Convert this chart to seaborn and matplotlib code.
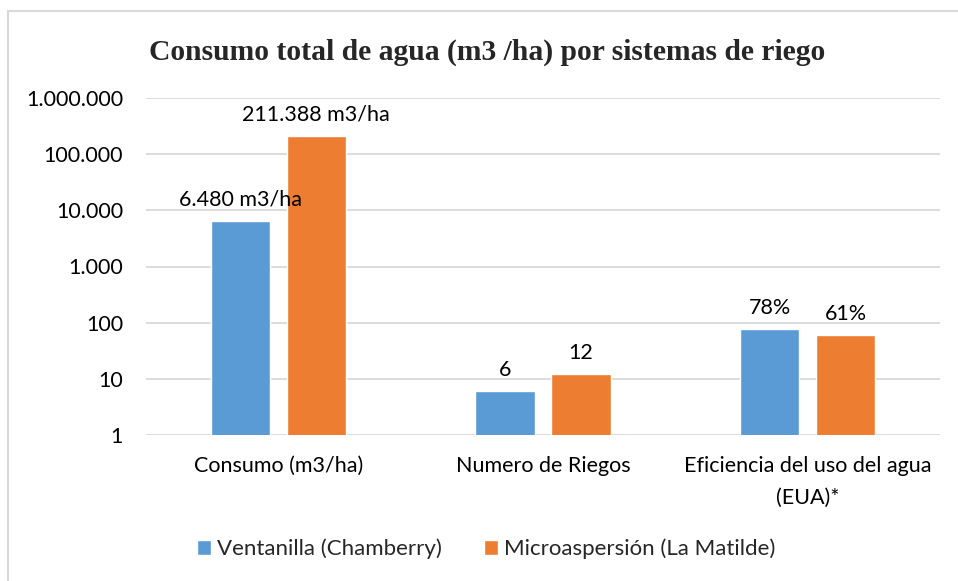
import matplotlib
matplotlib.use("Agg")
import matplotlib.pyplot as plt
import matplotlib.ticker as mticker
from matplotlib.lines import Line2D
import seaborn as sns
import pandas as pd

categories = ["Consumo (m3/ha)", "Numero de Riegos", "Eficiencia del uso del agua\n(EUA)*"]
series_names = ["Ventanilla (Chamberry)", "Microaspersión (La Matilde)"]
ventanilla = [6480, 6, 78]
microaspersion = [211388, 12, 61]
ventanilla_labels = ["6.480 m3/ha", "6", "78%"]
microaspersion_labels = ["211.388 m3/ha", "12", "61%"]
ytick_values = [1, 10, 100, 1000, 10000, 100000, 1000000]
colors = ["#5B9BD5", "#ED7D31"]

df = pd.DataFrame({
    "cat": categories * 2,
    "serie": [series_names[0]] * 3 + [series_names[1]] * 3,
    "val": ventanilla + microaspersion,
})

sns.set_theme(style="white")
plt.rcParams["font.family"] = ["Lato", "DejaVu Sans"]

FS = 15.5
fig = plt.figure(figsize=(9.58, 5.81), dpi=100)
ax = fig.add_axes([146 / 958, 1 - 435 / 581, (940 - 146) / 958, (435 - 98) / 581])

sns.barplot(data=df, x="cat", y="val", hue="serie", palette=colors,
            width=0.574, gap=0.22, ax=ax, legend=True, saturation=1)
ax.set_yscale("log")
ax.set_ylim(1, 1000000)
ax.set_xlim(-0.5, 2.5)
ax.set_yticks(ytick_values)
ax.yaxis.set_major_formatter(mticker.FuncFormatter(lambda v, p: f"{int(round(v)):,}".replace(",", ".")))
ax.yaxis.set_minor_locator(mticker.NullLocator())
ax.grid(axis="y", color="#D9D9D9", linewidth=1.3)
ax.set_axisbelow(True)
for s in ax.spines.values():
    s.set_visible(False)
ax.set_xlabel("")
ax.set_ylabel("")
ax.tick_params(axis="y", labelsize=FS, colors="#000000", pad=16.5, length=0)
ax.tick_params(axis="x", labelsize=FS, colors="#000000", pad=15, length=0)
for t in ax.get_xticklabels():
    t.set_linespacing(1.75)

# data labels
for container, labels in zip(ax.containers, [ventanilla_labels, microaspersion_labels]):
    ax.bar_label(container, labels=labels, padding=8, fontsize=FS, color="#000000")

handles, labs = ax.get_legend_handles_labels()
ax.legend(handles, labs, loc="center", bbox_to_anchor=(486 / 958, 1 - 549 / 581),
          bbox_transform=fig.transFigure, ncol=2,
          frameon=False, fontsize=16.0, handlelength=0.62, handleheight=0.62, handletextpad=0.27,
          columnspacing=1.9)

fig.text(487 / 958, 1 - 52 / 581, "Consumo total de agua (m3 /ha) por sistemas de riego",
         ha="center", va="center", fontsize=21.3, fontweight="bold", family="Liberation Serif")

# chart area border (top and left)
fig.add_artist(Line2D([8 / 958, 1], [1 - 10.5 / 581, 1 - 10.5 / 581], transform=fig.transFigure,
                      color="#D9D9D9", linewidth=1.5))
fig.add_artist(Line2D([8 / 958, 8 / 958], [0, 1 - 10.5 / 581], transform=fig.transFigure,
                      color="#D9D9D9", linewidth=1.5))

fig.savefig("out.png", dpi=100)
